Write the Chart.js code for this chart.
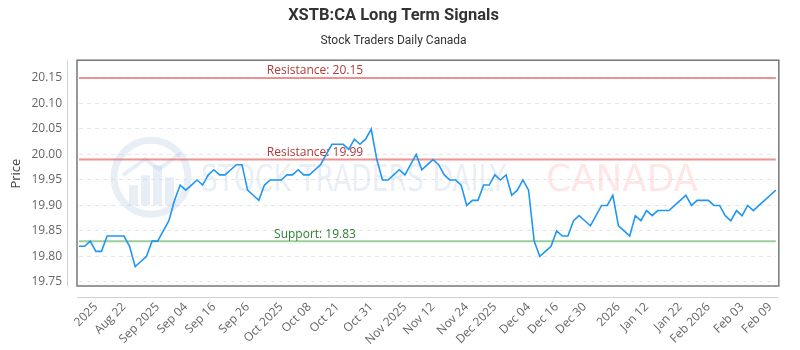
<!DOCTYPE html>
<html>
<head>
<meta charset="utf-8">
<script src="https://cdn.jsdelivr.net/npm/chart.js@4.4.1/dist/chart.umd.min.js"></script>
<style>
  html, body { margin: 0; padding: 0; background: #fff; }
  #wrap { width: 800px; height: 350px; }
</style>
</head>
<body>
<div id="wrap"><canvas id="lineChart" width="800" height="350"></canvas></div>
<script>
// closing prices, one per trading day (mid Aug 2025 -> Feb 10 2026)
var prices = [19.82,19.82,19.83,19.81,19.81,19.84,19.84,19.84,19.84,19.82,
  19.78,19.79,19.80,19.83,19.83,19.85,19.87,19.91,19.94,19.93,
  19.94,19.95,19.94,19.96,19.97,19.96,19.96,19.97,19.98,19.98,
  19.93,19.92,19.91,19.94,19.95,19.95,19.95,19.96,19.96,19.97,
  19.96,19.96,19.97,19.98,20.00,20.02,20.02,20.02,20.01,20.03,
  20.02,20.03,20.05,19.99,19.95,19.95,19.96,19.97,19.96,19.98,
  20.00,19.97,19.98,19.99,19.98,19.96,19.95,19.95,19.94,19.90,
  19.91,19.91,19.94,19.94,19.96,19.95,19.96,19.92,19.93,19.95,
  19.93,19.83,19.80,19.81,19.82,19.85,19.84,19.84,19.87,19.88,
  19.87,19.86,19.88,19.90,19.90,19.92,19.86,19.85,19.84,19.88,
  19.87,19.89,19.88,19.89,19.89,19.89,19.90,19.91,19.92,19.90,
  19.91,19.91,19.91,19.90,19.90,19.88,19.87,19.89,19.88,19.90,
  19.89,19.90,19.91,19.92,19.93];

// x tick labels and the index of the day they sit on
var tickLabels = ['2025','Aug 22','Sep 2025','Sep 04','Sep 16','Sep 26','Oct 2025','Oct 08',
  'Oct 21','Oct 31','Nov 2025','Nov 12','Nov 24','Dec 2025','Dec 04','Dec 16','Dec 30',
  '2026','Jan 12','Jan 22','Feb 2026','Feb 03','Feb 09'];
var tickIndex = [3,8,14,19,24,30,36,41,46,52,58,63,69,74,80,85,90,96,101,107,112,118,123];

// y axis tick values
var yTicks = [19.75, 19.80, 19.85, 19.90, 19.95, 20.00, 20.05, 20.10, 20.15];

// signal levels
var levelNames = ['Resistance', 'Resistance', 'Support'];
var levelValues = [20.15, 19.99, 19.83];
var levelLine = ['rgba(232,110,110,0.75)', 'rgba(232,110,110,0.75)', 'rgba(120,190,120,0.75)'];
var levelText = ['#b23a3a', '#b23a3a', '#2e7d32'];

var labels = prices.map(function () { return ''; });
tickIndex.forEach(function (idx, k) { labels[idx] = tickLabels[k]; });

var levelSets = levelValues.map(function (lv, k) {
  return {
    label: levelNames[k] + ': ' + lv.toFixed(2),
    data: prices.map(function () { return lv; }),
    borderColor: levelLine[k],
    borderWidth: 2,
    pointRadius: 0,
    fill: false
  };
});

var frame = {
  id: 'frame',
  beforeDatasetsDraw: function (chart) {
    var c = chart.ctx, a = chart.chartArea;
    c.save();
    // watermark
    var cx = a.left + 72, cy = a.top + 116;
    c.strokeStyle = 'rgba(190,205,228,0.35)';
    c.lineWidth = 7;
    c.beginPath(); c.arc(cx, cy, 37, 0, Math.PI * 2); c.stroke();
    c.fillStyle = 'rgba(190,205,228,0.35)';
    [[-22, 8, 20], [-10, -2, 30], [2, -12, 40], [14, 0, 28]].forEach(function (b) {
      c.fillRect(cx + b[0], cy + b[1], 9, b[2]);
    });
    c.beginPath(); c.moveTo(cx - 28, cy - 2); c.lineTo(cx - 6, cy - 18); c.lineTo(cx + 8, cy - 8); c.lineTo(cx + 30, cy - 24);
    c.lineWidth = 4; c.stroke();
    c.font = '38px "DejaVu Sans"';
    c.textBaseline = 'middle';
    c.fillStyle = 'rgba(190,205,228,0.32)';
    c.fillText('STOCK TRADERS DAILY', a.left + 122, cy + 4, 305);
    c.fillStyle = 'rgba(255,190,190,0.38)';
    c.fillText('CANADA', a.left + 467, cy + 4, 152);
    c.restore();
  },
  afterDatasetsDraw: function (chart) {
    var c = chart.ctx, a = chart.chartArea, y = chart.scales.y;
    c.save();
    c.font = '12px "Open Sans"';
    c.textAlign = 'center';
    c.textBaseline = 'bottom';
    levelValues.forEach(function (lv, k) {
      c.fillStyle = levelText[k];
      c.fillText(levelNames[k] + ': ' + lv.toFixed(2), a.left + 236, y.getPixelForValue(lv) - 1);
    });
    // plot box
    c.strokeStyle = '#777';
    c.lineWidth = 1.5;
    c.strokeRect(a.left - 2, a.top - 1, a.right - a.left + 5, a.bottom - a.top + 1);
    // outer axis lines
    c.strokeStyle = '#d0d0d0';
    c.lineWidth = 1;
    c.beginPath();
    c.moveTo(a.left - 11.5, a.top - 1); c.lineTo(a.left - 11.5, a.bottom);
    c.moveTo(a.left - 2, a.bottom + 11.5); c.lineTo(a.right + 3, a.bottom + 11.5);
    c.stroke();
    c.restore();
  }
};

var ctxL = document.getElementById('lineChart').getContext('2d');
var myLineChart = new Chart(ctxL, {
  type: 'line',
  data: {
    labels: labels,
    datasets: [{
      label: 'XSTB:CA',
      data: prices,
      borderColor: '#2196f3',
      borderWidth: 1.6,
      pointRadius: 0,
      tension: 0,
      fill: false
    }].concat(levelSets)
  },
  options: {
    responsive: false,
    animation: false,
    layout: { padding: { left: 0, right: 13, top: 0, bottom: 0 } },
    plugins: {
      legend: { display: false },
      tooltip: { enabled: false },
      title: {
        display: true,
        text: 'XSTB:CA Long Term Signals',
        color: '#333',
        font: { family: 'Roboto', size: 16.5, weight: 'bold' },
        padding: { top: 6, bottom: 6 }
      },
      subtitle: {
        display: true,
        text: 'Stock Traders Daily Canada',
        color: '#333',
        font: { family: 'Roboto', size: 12 },
        padding: { top: 2, bottom: 13 }
      }
    },
    scales: {
      x: {
        grid: { display: false, drawTicks: false },
        border: { display: false },
        ticks: {
          autoSkip: false,
          minRotation: 45,
          maxRotation: 45,
          padding: 14,
          color: '#666',
          font: { family: 'Open Sans', size: 12 }
        },
        afterFit: function (s) { s.height = 64; }
      },
      y: {
        min: 19.742,
        max: 20.183,
        grid: { color: '#e6e6e6', drawTicks: false },
        border: { display: false, dash: [4, 4] },
        ticks: {
          padding: 17,
          color: '#666',
          font: { family: 'Open Sans', size: 12 },
          callback: function (v) { return v.toFixed(2); }
        },
        afterBuildTicks: function (s) {
          s.ticks = yTicks.map(function (v) { return { value: v }; });
        },
        title: {
          display: true,
          text: 'Price',
          color: '#444',
          font: { family: 'Open Sans', size: 13 },
          padding: { top: 8, bottom: 0 }
        },
        afterFit: function (s) { s.width = 79; }
      }
    }
  },
  plugins: [frame]
});
</script>
</body>
</html>
